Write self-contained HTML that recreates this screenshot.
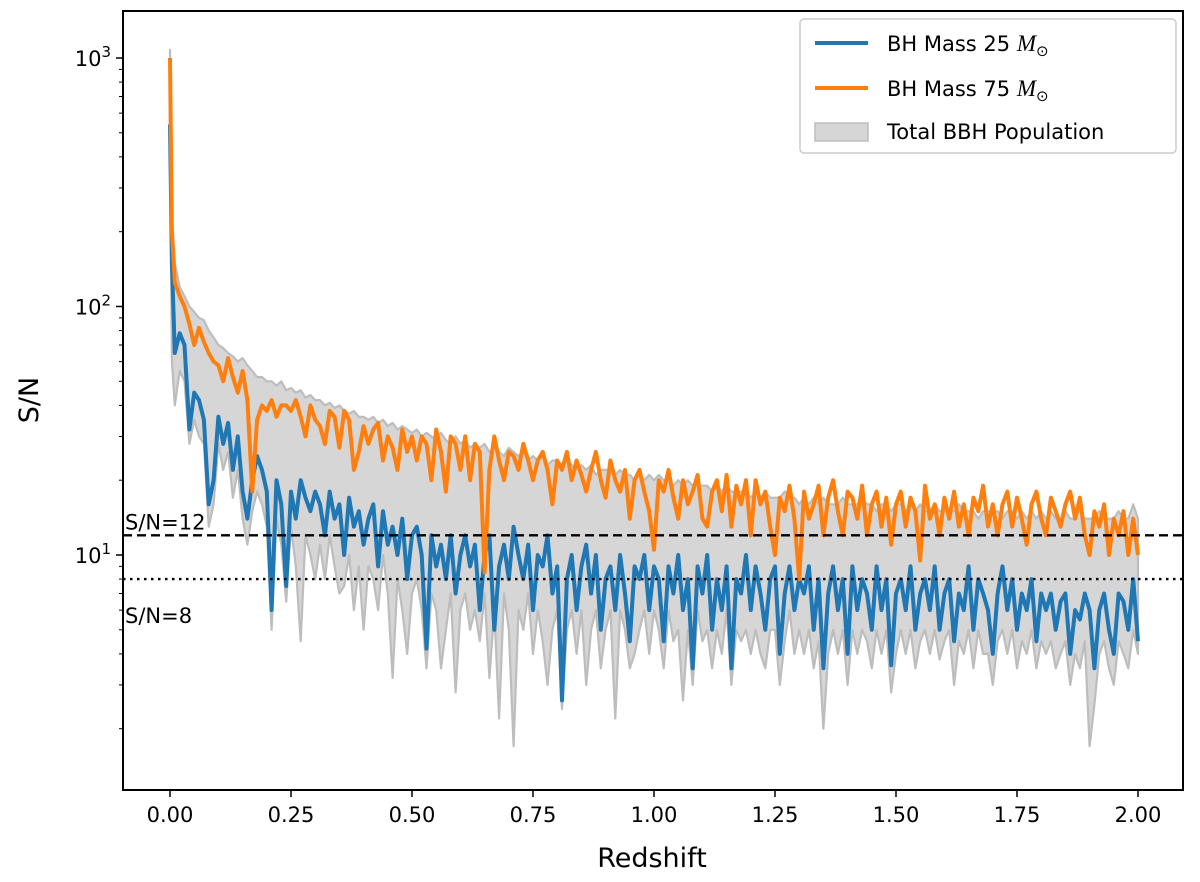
<!DOCTYPE html>
<html><head><meta charset="utf-8"><style>
body{margin:0;background:#fff;}
svg{display:block;font-family:"DejaVu Sans","Liberation Sans",sans-serif;}
</style></head><body>
<svg id="chart" width="1200" height="882" viewBox="0 0 1200 882"></svg>
<script>
const extraZ = [0, 0.004];
const seriesNames = ["BH Mass 25", "BH Mass 75", "Total BBH Population"];
const xTicks = [0, 0.25, 0.5, 0.75, 1.0, 1.25, 1.5, 1.75, 2.0];
const xTickLabels = ["0.00","0.25","0.50","0.75","1.00","1.25","1.50","1.75","2.00"];
const yMajor = [1, 2, 3];
const thresholds = [12, 8];
const orange = [1000,200,
125,110,100,85,70,82,72,65,60,58,
50,62,52,45,55,42,18,35,40,38,
42,36,40,40,38,42,36,30,40,35,
33,28,38,36,27,38,35,22,26,33,
28,32,34,24,30,27,22,32,26,30,
24,30,28,20,32,26,18,30,28,22,
30,20,28,26,8.5,22,30,24,20,26,
25,22,28,24,20,24,26,22,16,24,
22,26,20,24,21,18,22,26,20,17,
24,20,18,22,14,20,22,18,15,10.5,
20,18,22,17,14,20,16,18,21,14,
13,18,20,15,21,13,19,16,20,12,
20,16,18,13,10,17,15,19,14,8,
18,14,16,19,12,17,20,15,12,18,
17,14,19,12,16,18,13,17,11,16,
18,13,17,15,9.5,19,14,16,12,17,
14,18,13,16,12,17,15,19,13,16,
12,16,18,13,17,14,11,16,18,14,
12,17,15,13,16,18,14,17,12,10,
15,13,16,10,14,12,15,10,14,10];
const blue = [540,150,
65,78,70,32,45,42,35,16,20,36,
28,34,22,30,18,14,20,25,22,18,
6,20,16,7.5,18,14,20,17,15,18,
16,12,18,14,16,10,17,13,15,11,
14,16,9,15,11,13,10,14,8,12,
13,10,4.2,12,9,11,8,12,7,10,
12,9,11,6,10,12,5,9,11,8,
13,10,8,11,6,10,9,12,7,9,
2.6,8,10,6,9,11,7,10,5,8,
9,6,10,7,4.5,9,8,10,6,9,
8,4.5,9,7,10,6,8,3.5,9,7,
10,5,8,6,9,3.5,8,7,10,6,
9,7,5,8,9,4,7,9,6,8,
7,9,5,8,3.5,7,9,6,8,4,
9,6,8,7,5,9,6,8,3.6,7,
8,6,9,5,7,8,6,9,5,7,
8,4.5,7,6,9,5,8,7,6,4,
7,9,6,8,5,7,6,8,4.5,7,
6,7,5,6.5,7,4,6,5.5,7,6,
3.5,6,7,5,4,7,6.5,5,8,4.5];
const upper = [1080,230,
150,120,110,100,95,90,88,80,75,70,
68,65,63,60,62,58,55,52,52,50,
50,48,50,46,47,45,46,43,44,42,
42,40,41,39,40,38,37,38,36,36,
35,36,34,35,33,34,32,33,32,31,
32,30,31,30,29,31,29,28,30,28,
29,27,28,27,28,26,27,26,25,27,
26,25,26,24,25,24,25,23,24,24,
23,24,23,22,23,22,23,21,22,22,
22,21,22,21,21,20,21,20,21,20,
21,20,20,19,20,19,20,19,19,19,
19,18,19,18,19,18,18,18,18,17,
18,17,18,17,17,17,18,17,17,16,
17,16,17,16,17,16,16,16,17,16,
16,16,17,16,16,15,16,16,15,16,
16,15,16,15,16,15,15,16,15,15,
15,15,16,15,15,15,14,15,15,15,
15,14,15,15,14,15,14,15,14,15,
14,15,14,14,15,14,14,15,14,14,
14,15,14,14,14,15,14,14,16,14];
const lower = [500,60,
40,55,50,28,35,30,28,13,16,28,
22,26,17,22,14,11,15,18,16,13,
5,14,11,6.5,13,9,4.5,12,10,8,
11,8,12,9,7,7.5,10,6,9,5,
9,8,6,10,7,3.2,8,6,4,7,
8,6,3.5,7,6,3.5,5,7,2.8,6,
7,5,6,4.5,7,3.2,6,2.2,7,5,
1.7,6,5,7,4,6,4.5,3,5,6,
2.4,5,6,4,6,3,5,6,3.5,5,
6,2.2,6,5,3.5,4,5,6,4,6,
5,3.5,6,4.5,5,2.6,5,3,6,4.5,
5,3.5,5,4,6,3,5,4.5,5,4,
5,4,3.5,5,5,3,4.5,6,4,5,
4,5,3.5,4.5,2,4,5,4,5,3,
5,4,5,4.5,3.5,5,4,5,2.8,4,
5,4,5,3.5,4.5,5,4,5,3.8,4.5,
5,3,4.5,4,5,3.5,5,4,4,3,
4.5,5,4,5,3.5,4.5,4,5,3.5,4.5,
4,4.5,3.5,4,4.5,3,4,3.5,4.5,1.7,
2.5,4,4.5,3.5,3,4.5,4,3.5,5,4];
const z = extraZ.concat(Array.from({length:200},(_, i)=>(i+1)/100));

const L=123,R=1183,T=11,B=790;
const X = v => 170 + v*484;
const Y = v => 555 - (Math.log10(v)-1)*248.5;
const NS="http://www.w3.org/2000/svg";
const svg=document.getElementById('chart');
function mk(tag, attrs, parent){const e=document.createElementNS(NS,tag);for(const k in attrs)e.setAttribute(k,attrs[k]);(parent||svg).appendChild(e);return e;}

let d="M"+z.map((v,i)=>X(v).toFixed(1)+","+Y(upper[i]).toFixed(1)).join("L");
for(let i=z.length-1;i>=0;i--) d+="L"+X(z[i]).toFixed(1)+","+Y(lower[i]).toFixed(1);
d+="Z";
const band=mk('path',{d:d,fill:'#d6d6d6',stroke:'#bdbdbd','stroke-width':2.2,'stroke-linejoin':'round'});



function line(arr,color,name){
  const p=mk('path',{d:"M"+z.map((v,i)=>X(v).toFixed(1)+","+Y(arr[i]).toFixed(1)).join("L"),fill:'none',stroke:color,'stroke-width':4,'stroke-linejoin':'round'});
  
  
}
line(blue,'#1f77b4','bh-25-line');
line(orange,'#ff7f0e','bh-75-line');

const h1=mk('line',{x1:L,x2:R,y1:Y(thresholds[0]),y2:Y(thresholds[0]),stroke:'#000','stroke-width':2.4,'stroke-dasharray':'9,5'});


const h2=mk('line',{x1:L,x2:R,y1:Y(thresholds[1]),y2:Y(thresholds[1]),stroke:'#000','stroke-width':2.4,'stroke-dasharray':'2.5,4.5'});


const t1=mk('text',{x:125,y:Y(thresholds[0])-6,'font-size':21});
t1.textContent="S/N=12";


const t2=mk('text',{x:125,y:Y(thresholds[1])+44,'font-size':21});
t2.textContent="S/N=8";



const fr=mk('rect',{x:L,y:T,width:R-L,height:B-T,fill:'none',stroke:'#000','stroke-width':2});



xTicks.forEach((v,i)=>{
  const tk=mk('line',{x1:X(v),x2:X(v),y1:B,y2:B+7,stroke:'#000','stroke-width':1.5});
  
  
  const tl=mk('text',{x:X(v),y:B+32,'font-size':21,'text-anchor':'middle'});
  tl.textContent=xTickLabels[i];
  
  
});
for(let e=0;e<=3;e++){for(let m=1;m<10;m++){const v=m*Math.pow(10,e);const y=Y(v);if(y<T||y>B)continue;
  const tk=mk('line',{x1:L-(m===1?7:4),x2:L,y1:y,y2:y,stroke:'#000','stroke-width':m===1?1.5:1});
  
  
}}
yMajor.forEach(p=>{
  const tl=mk('text',{x:L-12,y:Y(Math.pow(10,p))+8,'font-size':21,'text-anchor':'end'});
  tl.innerHTML='10<tspan dy="-9" font-size="15">'+p+'</tspan>';
  
  
});
const xl=mk('text',{x:652,y:867,'font-size':27,'text-anchor':'middle'});xl.textContent="Redshift";


const yl=mk('text',{x:0,y:0,'font-size':27,'text-anchor':'middle',transform:'translate(38,400) rotate(-90)'});yl.textContent="S/N";



const lg=mk('g',{});


mk('rect',{x:800,y:19,width:376,height:134,rx:4,fill:'#fff','fill-opacity':0.85,stroke:'#ccc','stroke-width':1.5},lg);
const ly=[43,88,131];
[['#1f77b4',seriesNames[0]],['#ff7f0e',seriesNames[1]]].forEach((s,i)=>{
  const l=mk('line',{x1:815,x2:868,y1:ly[i],y2:ly[i],stroke:s[0],'stroke-width':4},lg);
  
  
  const t=mk('text',{x:887,y:ly[i]+8,'font-size':21},lg);
  t.innerHTML=s[1]+' <tspan font-family="Liberation Serif, serif" font-style="italic" font-size="23">M</tspan><tspan font-size="15" dy="5">⊙</tspan>';
  
  
});
const sw=mk('rect',{x:815,y:123,width:53,height:18,fill:'#d6d6d6',stroke:'#bdbdbd','stroke-width':1.5},lg);


const t3=mk('text',{x:887,y:139,'font-size':21},lg);t3.textContent=seriesNames[2];


</script>
</body></html>
